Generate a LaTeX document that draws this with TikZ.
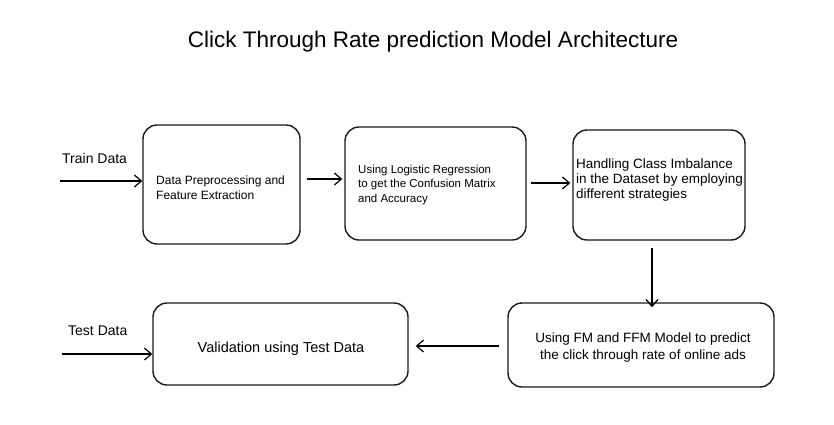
\documentclass[tikz,border=0pt]{standalone}
\usepackage{fontspec}
\setmainfont{Liberation Sans}
\usetikzlibrary{arrows.meta}
\begin{document}
\begin{tikzpicture}[x=1pt,y=-1pt,
  box/.style={draw=black!90, line width=1.4pt, rounded corners=14pt, inner sep=0pt},
  txt/.style={align=left, inner sep=0pt},
  conn/.style={line width=1.4pt, -{Straight Barb[length=7pt,width=12pt,line width=1.2pt]}},
  lbl/.style={font=\fontsize{14}{16}\selectfont, inner sep=0pt}]
\useasboundingbox[fill=white] (0,0) rectangle (834,424);
\node[font=\fontsize{22.5}{26}\selectfont] (title) at (433,42) {Click Through Rate prediction Model Architecture};
% boxes
\node[box, minimum width=157pt, minimum height=119pt] (b1) at (221.5,184.5) {};
\node[box, minimum width=181pt, minimum height=113pt] (b2) at (435.5,183.5) {};
\node[box, minimum width=172pt, minimum height=110pt] (b3) at (659,185) {};
\node[box, minimum width=266pt, minimum height=84pt] (b4) at (641,345) {};
\node[box, minimum width=255pt, minimum height=82pt] (b5) at (280.5,344) {};
% texts
\node[txt, anchor=west, font=\fontsize{12}{15}\selectfont] (t1) at (156,188) {Data Preprocessing and\\Feature Extraction};
\node[txt, anchor=west, font=\fontsize{11.5}{14.5}\selectfont] (t2) at (358,185) {Using Logistic Regression\\to get the Confusion Matrix\\and Accuracy};
\node[txt, anchor=west, font=\fontsize{13.5}{15}\selectfont] (t3) at (576,180) {Handling Class Imbalance\\in the Dataset by employing\\different strategies};
\node[txt, align=center, font=\fontsize{13.5}{17}\selectfont] (t4) at (643,347) {Using FM and FFM Model to predict\\the click through rate of online ads};
\node[txt, font=\fontsize{14.5}{16}\selectfont] (t5) at (281,349) {Validation using Test Data};
% labels
\node[lbl, anchor=west] (l1) at (62,158) {Train Data};
\node[lbl, anchor=west] (l2) at (68,331) {Test Data};
\coordinate (s1) at (60,181);
\coordinate (s2) at (62,354);
% connectors
\draw[conn, line width=2pt] (s1) -- (b1.west |- s1);
\draw[conn] (b1.east |- 0,179) ++(6,0) -- ([xshift=-2pt]b2.west |- 0,179);
\draw[conn, line width=2pt] (b2.east |- 0,183) ++(4,0) -- ([xshift=-2pt]b3.west |- 0,183);
\draw[conn] (652,248) -- ([yshift=-5pt]b4.north -| 652,0);
\draw[conn] ([xshift=-8pt]b4.west |- 0,346) -- ([xshift=7pt]b5.east |- 0,346);
\draw[conn] (s2) -- (b5.west |- s2);
\end{tikzpicture}
\end{document}
